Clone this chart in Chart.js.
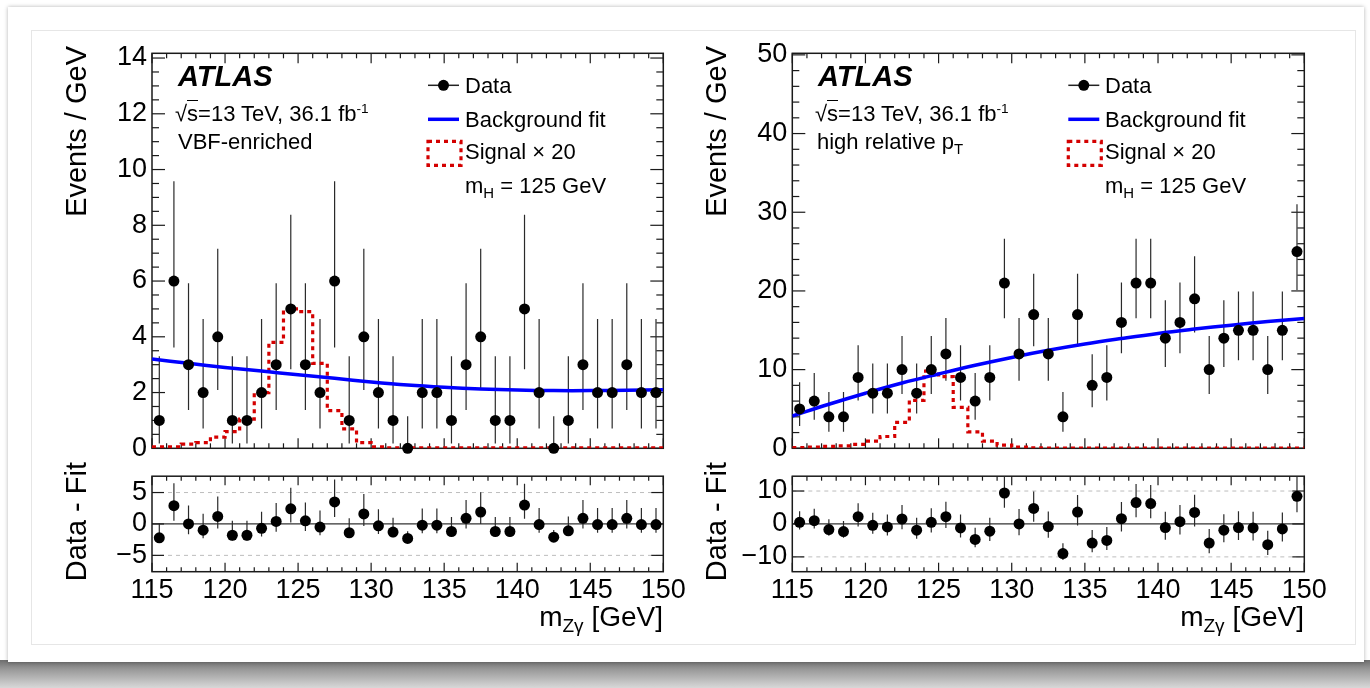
<!DOCTYPE html>
<html>
<head>
<meta charset="utf-8">
<title>Z gamma invariant mass, VBF-enriched and high relative pT categories</title>
<script src="https://cdn.jsdelivr.net/npm/chart.js@4.4.1/dist/chart.umd.min.js"></script>
<style>
  html, body { margin: 0; padding: 0; background: #fff; }
  #page {
    position: relative; width: 1370px; height: 688px; overflow: hidden; background: #fff;
    font-family: "Liberation Sans", Arial, Helvetica, sans-serif; color: #000;
  }
  .shadow {
    position: absolute; left: 0; top: 660px; width: 1370px; height: 28px;
    background: linear-gradient(to bottom, #6e6e6e 0%, #9a9a9a 35%, #d8d8d8 100%);
  }
  .card {
    position: absolute; left: 8px; top: 7px; width: 1356px; height: 655px; background: #fff;
    box-shadow: 0 0 4px rgba(0, 0, 0, 0.3);
  }
  .inner {
    position: absolute; left: 31px; top: 30px; width: 1323px; height: 613px;
    border: 1px solid #e6e6e6; background: #fff;
  }
  canvas { position: absolute; }
  .txt {
    position: absolute; white-space: nowrap; line-height: 1; font-size: 22px;
    transform: translateY(-50%);
  }
  .atlas { font-size: 29px; font-weight: bold; font-style: italic; }
  .xtitle { font-size: 28px; transform: translate(-100%, -50%); }
  .ytitle {
    position: absolute; white-space: nowrap; line-height: 1; font-size: 29px;
    transform-origin: 0 0; transform: rotate(-90deg) translate(-100%, -50%);
  }
  .txt sub { font-size: 0.68em; vertical-align: -0.32em; line-height: 0; }
  .txt sup { font-size: 0.62em; vertical-align: 0.62em; line-height: 0; }
  .ovl { border-top: 1.5px solid #000; }
</style>
</head>
<body>
<div id="page">
  <div class="shadow"></div>
  <div class="card"></div>
  <div class="inner"></div>

  <canvas id="ch-vbf" width="650" height="440" style="left:40px;top:30px"></canvas>
  <canvas id="ch-vbf-res" width="650" height="190" style="left:40px;top:455px"></canvas>
  <canvas id="ch-hpt" width="650" height="440" style="left:680px;top:30px"></canvas>
  <canvas id="ch-hpt-res" width="650" height="190" style="left:680px;top:455px"></canvas>

  <!-- VBF-enriched panel text -->
  <div class="ytitle" style="left:76px;top:46px">Events / GeV</div>
  <div class="ytitle" style="left:76px;top:462px">Data - Fit</div>
  <div class="txt atlas" style="left:178px;top:76px">ATLAS</div>
  <div class="txt" style="left:175px;top:114px">√<span class="ovl">s</span>=13 TeV, 36.1 fb<sup>-1</sup></div>
  <div class="txt" style="left:178px;top:142px">VBF-enriched</div>
  <div class="txt" style="left:465px;top:86px">Data</div>
  <div class="txt" style="left:465px;top:120px">Background fit</div>
  <div class="txt" style="left:465px;top:152px">Signal × 20</div>
  <div class="txt" style="left:465px;top:186px">m<sub>H</sub> = 125 GeV</div>
  <div class="txt xtitle" style="left:663px;top:617px">m<sub>Zγ</sub> [GeV]</div>

  <!-- high relative pT panel text -->
  <div class="ytitle" style="left:716px;top:46px">Events / GeV</div>
  <div class="ytitle" style="left:716px;top:462px">Data - Fit</div>
  <div class="txt atlas" style="left:818px;top:76px">ATLAS</div>
  <div class="txt" style="left:815px;top:114px">√<span class="ovl">s</span>=13 TeV, 36.1 fb<sup>-1</sup></div>
  <div class="txt" style="left:817px;top:142px">high relative p<sub>T</sub></div>
  <div class="txt" style="left:1105px;top:86px">Data</div>
  <div class="txt" style="left:1105px;top:120px">Background fit</div>
  <div class="txt" style="left:1105px;top:152px">Signal × 20</div>
  <div class="txt" style="left:1105px;top:186px">m<sub>H</sub> = 125 GeV</div>
  <div class="txt xtitle" style="left:1304px;top:617px">m<sub>Zγ</sub> [GeV]</div>
</div>

<script>
// ── Binning ───────────────────────────────────────────────────────────────
const binEdges = [115, 116, 117, 118, 119, 120, 121, 122, 123, 124, 125, 126,
    127, 128, 129, 130, 131, 132, 133, 134, 135, 136, 137, 138, 139, 140, 141,
    142, 143, 144, 145, 146, 147, 148, 149, 150];
const massBins = [115.5, 116.5, 117.5, 118.5, 119.5, 120.5, 121.5, 122.5, 123.5,
    124.5, 125.5, 126.5, 127.5, 128.5, 129.5, 130.5, 131.5, 132.5, 133.5, 134.5,
    135.5, 136.5, 137.5, 138.5, 139.5, 140.5, 141.5, 142.5, 143.5, 144.5, 145.5,
    146.5, 147.5, 148.5, 149.5];
const fitMass = [115, 117.5, 120, 122.5, 125, 127.5, 130, 132.5, 135, 137.5,
    140, 142.5, 145, 147.5, 150];

// Poisson error band (down / up) indexed by the observed count
const poissonDown = [0, 0.83, 1.29, 1.63, 1.91, 2.16, 2.38, 2.58, 2.77, 2.94, 3.11,
    3.26, 3.40, 3.54, 3.67, 3.80, 3.92, 4.04, 4.16, 4.27, 4.38, 4.48, 4.59, 4.69, 4.79, 4.88];
const poissonUp = [1.15, 2.30, 2.64, 2.92, 3.16, 3.38, 3.58, 3.77, 3.94, 4.10, 4.26,
    4.40, 4.55, 4.68, 4.81, 4.94, 5.06, 5.18, 5.29, 5.40, 5.51, 5.62, 5.72, 5.82, 5.92, 6.02];

// ── VBF-enriched ──────────────────────────────────────────────────────────
const vbfCounts = [1, 6, 3, 2, 4, 1, 1, 2, 3, 5, 3, 2, 6, 1, 4, 2, 1, 0, 2, 2, 1, 3,
    4, 1, 1, 5, 2, 0, 1, 3, 2, 2, 3, 2, 2];
const vbfFit = [3.2, 3.05, 2.9, 2.77, 2.64, 2.51, 2.38, 2.27, 2.19, 2.13, 2.09,
    2.07, 2.07, 2.08, 2.1];
const vbfSignal = [0.05, 0.05, 0.15, 0.2, 0.4, 0.6, 1.05, 2.0, 3.8, 5.0, 4.9, 3.05,
    1.35, 0.7, 0.2, 0.05, 0.02, 0.02, 0.02, 0.02, 0.02, 0.02, 0.02, 0.02, 0.02,
    0.02, 0.02, 0.02, 0.02, 0.02, 0.02, 0.02, 0.02, 0.02, 0.02];
const vbfResidual = [-2.2, 2.9, 0, -1.0, 1.2, -1.8, -1.8, -0.7, 0.4, 2.4, 0.5, -0.5,
    3.5, -1.4, 1.6, -0.3, -1.3, -2.3, -0.2, -0.2, -1.2, 0.9, 1.9, -1.2, -1.2, 3.0,
    -0.1, -2.1, -1.1, 0.9, -0.1, -0.1, 0.9, -0.1, -0.1];

// ── High relative pT ──────────────────────────────────────────────────────
const hptCounts = [5, 6, 4, 4, 9, 7, 7, 10, 7, 10, 12, 9, 6, 9, 21, 12, 17, 12, 4,
    17, 8, 9, 16, 21, 21, 14, 16, 19, 10, 14, 15, 15, 10, 15, 25];
const hptFit = [4.1, 5.6, 7.0, 8.3, 9.45, 10.55, 11.55, 12.45, 13.25, 13.95, 14.6,
    15.15, 15.65, 16.1, 16.5];
const hptSignal = [0.1, 0.15, 0.25, 0.3, 0.5, 0.9, 1.5, 3.3, 6.1, 9.8, 9.1, 5.2,
    2.1, 0.9, 0.4, 0.15, 0.05, 0.02, 0.02, 0.02, 0.02, 0.02, 0.02, 0.02, 0.02,
    0.02, 0.02, 0.02, 0.02, 0.02, 0.02, 0.02, 0.02, 0.02, 0.02];
const hptResidual = [0.5, 1.0, -1.7, -2.3, 2.2, -0.4, -0.9, 1.5, -1.9, 0.5, 2.2,
    -1.2, -4.7, -2.2, 9.4, 0, 4.7, -0.8, -9.0, 3.6, -5.8, -5.0, 1.6, 6.5, 6.2, -1.1,
    0.7, 3.5, -5.8, -1.9, -1.1, -1.2, -6.3, -1.5, 8.4];

Chart.defaults.font.family = '"Liberation Sans", Arial, Helvetica, sans-serif';
Chart.defaults.color = '#000';

const BLUE = '#0000ff';
const RED  = '#d40000';
const AXIS_FONT = { size: 27 };

// ── ROOT-style frame, inward ticks, reference lines, error bars, legend ──
const rootFrame = {
    id: 'rootFrame',
    beforeDatasetsDraw(chart, args, o) {
        const { ctx, chartArea: a, scales: { x, y } } = chart;
        const line = (x0, y0, x1, y1) => { ctx.beginPath(); ctx.moveTo(x0, y0); ctx.lineTo(x1, y1); ctx.stroke(); };
        ctx.save();

        // horizontal reference lines (residual panels)
        (o.refLines || []).forEach(r => {
            ctx.strokeStyle = r.color; ctx.lineWidth = r.width;
            ctx.setLineDash(r.dash || []);
            const py = y.getPixelForValue(r.value);
            line(a.left, py, a.right, py);
        });
        ctx.setLineDash([]);

        // frame
        ctx.strokeStyle = '#1a1a1a'; ctx.lineWidth = 1.5;
        ctx.strokeRect(a.left, a.top, a.right - a.left, a.bottom - a.top);

        // x ticks, bottom and top
        ctx.lineWidth = 1.2;
        for (let v = x.min; v <= x.max + 1e-6; v += o.xMinor) {
            const major = Math.abs(v / o.xMajor - Math.round(v / o.xMajor)) < 1e-6;
            const len = major ? o.xMajorLen : o.xMinorLen;
            const px = x.getPixelForValue(v);
            line(px, a.bottom, px, a.bottom - len);
            line(px, a.top, px, a.top + len);
        }
        // y ticks, left and right
        for (let v = Math.ceil(y.min / o.yMinor) * o.yMinor; v <= y.max + 1e-6; v += o.yMinor) {
            const major = Math.abs(v / o.yMajor - Math.round(v / o.yMajor)) < 1e-6;
            const len = major ? o.yMajorLen : o.yMinorLen;
            const py = y.getPixelForValue(v);
            line(a.left, py, a.left + len, py);
            line(a.right, py, a.right - len, py);
        }

        // vertical error bars
        ctx.beginPath();
        ctx.rect(a.left, a.top, a.right - a.left, a.bottom - a.top);
        ctx.clip();
        ctx.strokeStyle = '#2a2a2a'; ctx.lineWidth = 1.2;
        chart.data.datasets.forEach(ds => {
            if (!ds.errLo) return;
            ds.data.forEach((p, i) => {
                const px = x.getPixelForValue(p.x);
                line(px, y.getPixelForValue(ds.errLo[i]), px, y.getPixelForValue(ds.errHi[i]));
            });
        });
        ctx.restore();
    },
    afterDatasetsDraw(chart, args, o) {
        if (!o.legend) return;
        const { ctx, chartArea: a } = chart;
        const lx = a.left + o.legend.x, ly = a.top + o.legend.y, gap = o.legend.gap, w = 31;
        ctx.save();
        // Data
        ctx.strokeStyle = '#222'; ctx.lineWidth = 1.5;
        ctx.beginPath(); ctx.moveTo(lx, ly); ctx.lineTo(lx + w, ly); ctx.stroke();
        ctx.fillStyle = '#000';
        ctx.beginPath(); ctx.arc(lx + w / 2, ly, 5.5, 0, Math.PI * 2); ctx.fill();
        // Background fit
        ctx.strokeStyle = BLUE; ctx.lineWidth = 3.5;
        ctx.beginPath(); ctx.moveTo(lx, ly + gap); ctx.lineTo(lx + w, ly + gap); ctx.stroke();
        // Signal x 20
        ctx.strokeStyle = RED; ctx.lineWidth = 3.2; ctx.setLineDash([4, 4]);
        ctx.strokeRect(lx, ly + 2 * gap - 12, w + 2, 24);
        ctx.restore();
    },
};
Chart.register(rootFrame);

function dataPoints(ys) { return massBins.map((m, i) => ({ x: m, y: ys[i] })); }
function histPoints(vals) { return binEdges.map((e, i) => ({ x: e, y: vals[Math.min(i, vals.length - 1)] })); }
function minusTick(v) { return v < 0 ? '\u2212' + Math.abs(v) : String(v); }

// ── Upper panel: data, background fit and signal template ────────────────
function buildMain(id, c) {
    return new Chart(document.getElementById(id), {
        type: 'scatter',
        data: {
            datasets: [
                {
                    label: 'Data', data: dataPoints(c.counts), order: 0, clip: false,
                    errLo: c.counts.map(n => n - poissonDown[n]),
                    errHi: c.counts.map(n => n + poissonUp[n]),
                    pointRadius: 5.5, backgroundColor: '#000', borderWidth: 0,
                },
                {
                    label: 'Background fit', data: fitMass.map((m, i) => ({ x: m, y: c.fit[i] })), order: 1,
                    showLine: true, pointRadius: 0, borderColor: BLUE, borderWidth: 3.5, tension: 0.4,
                },
                {
                    label: 'Signal × 20', data: histPoints(c.signal), order: 2,
                    showLine: true, stepped: 'before', pointRadius: 0,
                    borderColor: RED, borderWidth: 3.2, borderDash: [4, 4],
                },
            ],
        },
        options: {
            responsive: false, animation: false, events: [],
            layout: { padding: { left: 0, top: 23.3, right: c.padRight, bottom: 21.7 } },
            plugins: {
                legend: { display: false }, tooltip: { enabled: false },
                rootFrame: {
                    xMajor: 5, xMinor: 1, xMajorLen: 10, xMinorLen: 5,
                    yMajor: c.yStep, yMinor: c.yMinor, yMajorLen: 13, yMinorLen: 7,
                    legend: { x: 276, y: 32, gap: 34 },
                },
            },
            scales: {
                x: { type: 'linear', min: 115, max: 150, display: false },
                y: {
                    min: 0, max: c.yMax,
                    afterFit: s => { s.width = c.axisWidth; },
                    grid: { display: false, drawTicks: false }, border: { display: false },
                    ticks: { stepSize: c.yStep, includeBounds: false, padding: 5, font: AXIS_FONT, color: '#000' },
                },
            },
        },
    });
}

// ── Lower panel: data minus fit ──────────────────────────────────────────
function buildResidual(id, c) {
    return new Chart(document.getElementById(id), {
        type: 'scatter',
        data: {
            datasets: [{
                label: 'Data - Fit', data: dataPoints(c.residual), clip: false,
                errLo: c.residual.map((r, i) => r - poissonDown[c.counts[i]]),
                errHi: c.residual.map((r, i) => r + poissonUp[c.counts[i]]),
                pointRadius: 5.5, backgroundColor: '#000', borderWidth: 0,
            }],
        },
        options: {
            responsive: false, animation: false, events: [],
            layout: { padding: { left: 0, top: 8.3, right: c.padRight, bottom: 0 } },
            plugins: {
                legend: { display: false }, tooltip: { enabled: false },
                rootFrame: {
                    xMajor: 5, xMinor: 1, xMajorLen: 9, xMinorLen: 4.5,
                    yMajor: c.yStep, yMinor: c.yStep, yMajorLen: 12, yMinorLen: 12,
                    refLines: [
                        { value: c.yStep, color: '#bdbdbd', width: 1, dash: [4, 4] },
                        { value: -c.yStep, color: '#bdbdbd', width: 1, dash: [4, 4] },
                        { value: 0, color: '#333', width: 1.3 },
                    ],
                },
            },
            scales: {
                x: {
                    type: 'linear', min: 115, max: 150,
                    afterFit: s => { s.height = 73.3; },
                    grid: { display: false, drawTicks: false }, border: { display: false },
                    ticks: { stepSize: 5, includeBounds: false, padding: 3, maxRotation: 0,
                        autoSkip: false, font: AXIS_FONT, color: '#000' },
                },
                y: {
                    min: -c.yRange, max: c.yRange,
                    afterFit: s => { s.width = c.axisWidth; },
                    grid: { display: false, drawTicks: false }, border: { display: false },
                    ticks: { stepSize: c.yStep, includeBounds: false, padding: 5, font: AXIS_FONT,
                        color: '#000', callback: minusTick },
                },
            },
        },
    });
}

buildMain('ch-vbf', { counts: vbfCounts, fit: vbfFit, signal: vbfSignal,
    yMax: 14.17, yStep: 2, yMinor: 0.5, axisWidth: 112, padRight: 26.7 });
buildResidual('ch-vbf-res', { counts: vbfCounts, residual: vbfResidual,
    yRange: 7.6, yStep: 5, axisWidth: 112, padRight: 26.7 });
buildMain('ch-hpt', { counts: hptCounts, fit: hptFit, signal: hptSignal,
    yMax: 50.2, yStep: 10, yMinor: 2, axisWidth: 112.3, padRight: 25.7 });
buildResidual('ch-hpt-res', { counts: hptCounts, residual: hptResidual,
    yRange: 14.5, yStep: 10, axisWidth: 112.3, padRight: 25.7 });
</script>
</body>
</html>
